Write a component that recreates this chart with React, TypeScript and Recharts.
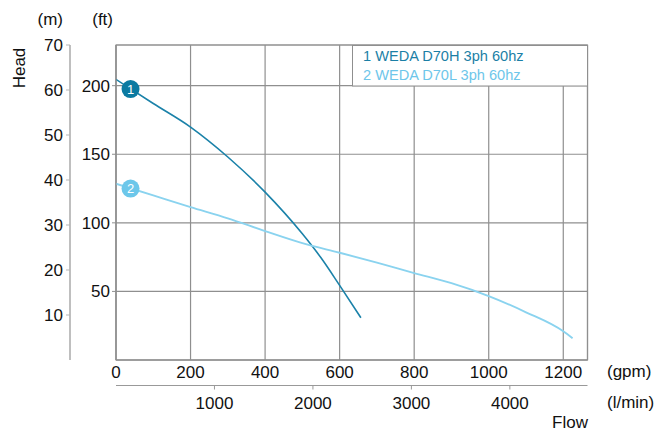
import {
  LineChart,
  Line,
  XAxis,
  YAxis,
  CartesianGrid,
  ReferenceArea,
  ReferenceDot,
} from "recharts";

const FT_PER_M = 3.28084;
const L_PER_GAL = 3.78541;

// pump curves, flow in gpm, head in ft
const pump1Flow = [0, 100, 200, 300, 400, 500, 550, 600, 657];
const pump1Head = [204.6, 187, 169.8, 148, 122.4, 92, 74.5, 54.4, 30.8];
const pump2Flow = [0, 100, 200, 300, 400, 500, 600, 700, 800, 900, 1000, 1100, 1200, 1225];
const pump2Head = [128.5, 120, 111.5, 103.3, 94, 85.2, 78.2, 71, 63.4, 56, 46.6, 34.8, 20.9, 15.8];

const seriesNames = ["1 WEDA D70H 3ph 60hz", "2 WEDA D70L 3ph 60hz"];
const seriesColors = ["#1b82a9", "#8ad3ef"];
const markerColors = ["#0b7aa1", "#6cc7ea"];
const markerFlow = [39, 39];
const markerHead = [197.5, 125];

const gpmTicks = [0, 200, 400, 600, 800, 1000, 1200];
const lminTicks = [1000, 2000, 3000, 4000];
const ftTicks = [50, 100, 150, 200];
const mTicks = [10, 20, 30, 40, 50, 60, 70];

const maxGpm = 1265;
const maxM = 70;
const maxFt = maxM * FT_PER_M;

const toRows = (flow: number[], head: number[]) =>
  flow.map((f, i) => ({ flow: f, head: head[i], lmin: f * L_PER_GAL }));

const series = [toRows(pump1Flow, pump1Head), toRows(pump2Flow, pump2Head)];

const FONT = "'Liberation Sans', Arial, Helvetica, sans-serif";
const GRID = "#8f8f8f";
const tickStyle = { fill: "#111", fontSize: 17, fontFamily: FONT };

export default function App() {
  return (
    <div
      style={{
        position: "absolute",
        left: 0,
        top: 0,
        width: 664,
        height: 432,
        background: "#fff",
        fontFamily: FONT,
      }}
    >
      <LineChart
        width={664}
        height={432}
        margin={{ top: 45, right: 76.5, bottom: 0, left: 0 }}
      >
        <CartesianGrid xAxisId="gpm" yAxisId="ft" stroke={GRID} strokeWidth={1.2} />
        <XAxis
          xAxisId="gpm"
          dataKey="flow"
          type="number"
          domain={[0, maxGpm]}
          ticks={gpmTicks}
          interval={0}
          allowDataOverflow
          height={25.5}
          tickLine={false}
          tickSize={0}
          tickMargin={5.5}
          axisLine={{ stroke: GRID }}
          tick={tickStyle}
        />
        <XAxis
          xAxisId="lmin"
          dataKey="lmin"
          type="number"
          domain={[0, maxGpm * L_PER_GAL]}
          ticks={lminTicks}
          interval={0}
          allowDataOverflow
          height={46.5}
          tickSize={4}
          tickMargin={7}
          tickLine={{ stroke: "#999" }}
          axisLine={{ stroke: "#999" }}
          tick={tickStyle}
        />
        <YAxis
          yAxisId="ft"
          type="number"
          domain={[0, maxFt]}
          ticks={ftTicks}
          interval={0}
          allowDataOverflow
          width={46}
          tickSize={4}
          tickMargin={2}
          tickLine={{ stroke: GRID }}
          axisLine={{ stroke: GRID }}
          tick={tickStyle}
        />
        <YAxis
          yAxisId="m"
          type="number"
          domain={[0, maxM]}
          ticks={mTicks}
          interval={0}
          allowDataOverflow
          width={70}
          tickSize={4}
          tickMargin={3}
          tickLine={{ stroke: "#b5b5b5" }}
          axisLine={{ stroke: "#b8b8b8", strokeWidth: 1.8 }}
          tick={tickStyle}
        />
        <ReferenceArea
          xAxisId="gpm"
          yAxisId="ft"
          x1={0}
          x2={maxGpm}
          y1={0}
          y2={maxFt}
          fill="none"
          fillOpacity={0}
          stroke={GRID}
          strokeWidth={1.2}
        />
        {series.map((rows, i) => (
          <Line
            key={seriesNames[i]}
            xAxisId="gpm"
            yAxisId="ft"
            data={rows}
            dataKey="head"
            name={seriesNames[i]}
            type="monotone"
            stroke={seriesColors[i]}
            strokeWidth={i === 0 ? 1.6 : 1.9}
            dot={false}
            activeDot={false}
            isAnimationActive={false}
          />
        ))}
        {markerFlow.map((f, i) => (
          <ReferenceDot
            key={`marker-${i}`}
            xAxisId="gpm"
            yAxisId="ft"
            x={f}
            y={markerHead[i]}
            r={9}
            shape={(p: any) => (
              <g>
                <circle cx={p.cx} cy={p.cy} r={9} fill={markerColors[i]} />
                <text
                  x={p.cx}
                  y={p.cy}
                  dy="0.36em"
                  textAnchor="middle"
                  fill="#fff"
                  fontSize={13}
                  fontFamily={FONT}
                >
                  {i + 1}
                </text>
              </g>
            )}
          />
        ))}
      </LineChart>
      <svg
        width={664}
        height={432}
        style={{ position: "absolute", left: 0, top: 0, pointerEvents: "none" }}
        fontFamily={FONT}
      >
        <text x={63} y={25} textAnchor="end" fontSize={17} fill="#111">(m)</text>
        <text x={113} y={25} textAnchor="end" fontSize={17} fill="#111">(ft)</text>
        <text x={25} y={68} transform="rotate(-90 25 68)" textAnchor="middle" fontSize={17} fill="#111">
          Head
        </text>
        <text x={607} y={377} fontSize={17} fill="#111">(gpm)</text>
        <text x={607} y={408} fontSize={17} fill="#111">(l/min)</text>
        <text x={588} y={428} textAnchor="end" fontSize={17} fill="#111">Flow</text>
        <rect x={352.5} y={45.5} width={235} height={40.5} fill="#fff" stroke={GRID} />
        {seriesNames.map((n, i) => (
          <text key={n} x={363} y={61 + i * 19} fontSize={14.6} fill={i === 0 ? "#1b7fa6" : "#6ec6ea"}>
            {n}
          </text>
        ))}
      </svg>
    </div>
  );
}
